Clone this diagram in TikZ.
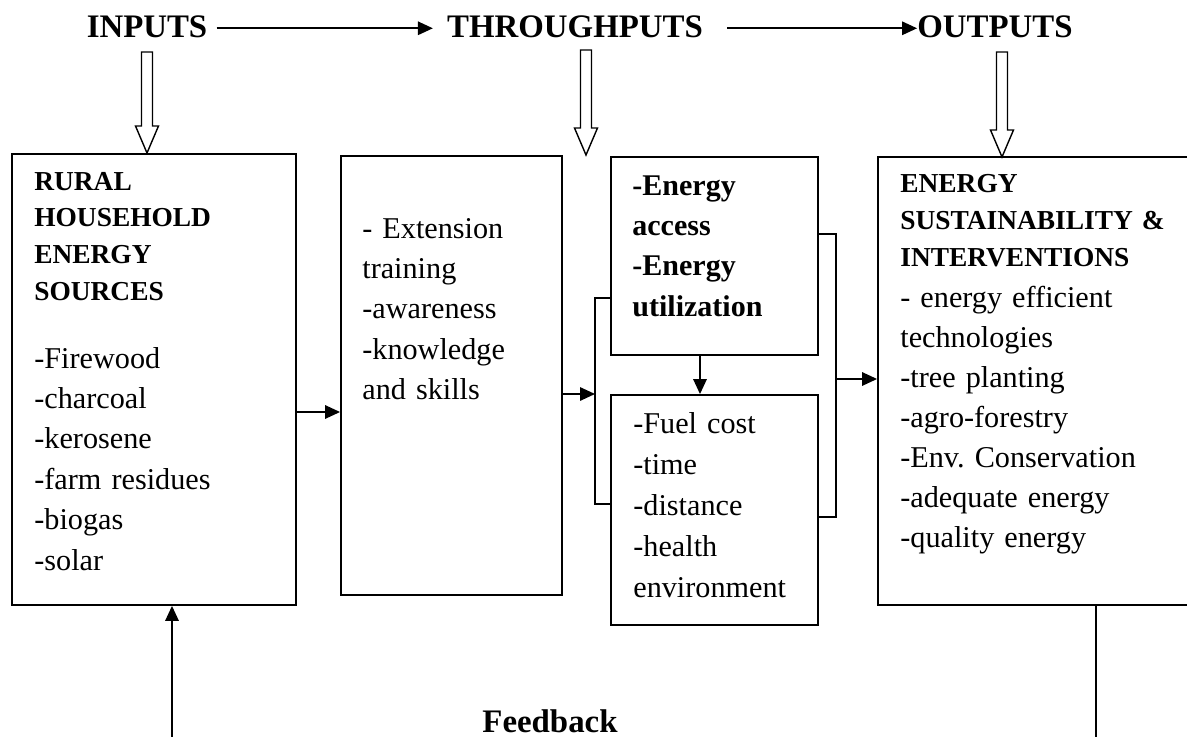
\documentclass[tikz,border=0pt]{standalone}
\usepackage{fontspec}
\setmainfont{Liberation Serif}
\usetikzlibrary{arrows.meta,calc}
\frenchspacing

\tikzset{
    box/.style={draw, line width=1.1pt, inner sep=0pt},
    head/.style={inner sep=0pt, font=\fontsize{18.7pt}{22pt}\selectfont\bfseries},
    txt/.style={anchor=base west, inner sep=0pt, text width=7cm, align=left,
        font=\fontsize{17.2pt}{23pt}\selectfont},
    bhead/.style={txt, font=\fontsize{15.6pt}{21pt}\selectfont\bfseries},
    arr/.style={-{Triangle[length=0.3cm,width=0.27cm]}, line width=0.9pt},
    link/.style={line width=0.9pt},
}

\begin{document}
\begin{tikzpicture}[x=0.02cm, y=-0.02cm]
            \clip (0,0) rectangle (1187,737);

            \node[head, anchor=base] (inputs) at (147,37) {INPUTS};
            \node[head, anchor=base] (through) at (575,37) {THROUGHPUTS};
            \node[head, anchor=base] (outputs) at (995,37) {OUTPUTS};
            \node[head, anchor=base] (fb) at (550,732) {Feedback};

            \draw[arr, shorten <=0.18cm, shorten >=0.28cm] ([yshift=-0.04cm]inputs.east) -- ([yshift=-0.04cm]through.west |- inputs.east);
            \draw[arr, shorten <=0.48cm] ([yshift=-0.04cm]through.east) -- ([yshift=-0.04cm]outputs.west |- through.east);

            \coordinate (intail) at (147,52);
            \coordinate (inhead) at (147,153);
            \coordinate (thtail) at (586,50);
            \coordinate (thhead) at (586,155);
            \coordinate (outtail) at (1002,52);
            \coordinate (outhead) at (1002,157);

            \foreach \tl/\hd in {intail/inhead, thtail/thhead, outtail/outhead}
                \draw[line width=0.8pt] let \p1=(\tl), \p2=(\hd) in
                    (\x1-0.11cm,\y1) -- (\x1+0.11cm,\y1) -- (\x1+0.11cm,\y2+0.54cm)
                    -- (\x1+0.23cm,\y2+0.54cm) -- (\x2,\y2) -- (\x1-0.23cm,\y2+0.54cm)
                    -- (\x1-0.11cm,\y2+0.54cm) -- cycle;

            \node[box, minimum width=5.68cm, minimum height=9.02cm] (src) at (154,379.5) {};
            \node[box, minimum width=4.42cm, minimum height=8.78cm] (ext) at (451.5,375.5) {};
            \node[box, minimum width=4.14cm, minimum height=3.96cm] (access) at (714.5,256) {};
            \node[box, minimum width=4.14cm, minimum height=4.6cm] (cost) at (714.5,510) {};
            \node[box, minimum width=6.44cm, minimum height=8.96cm] (sust) at (1039,381) {};

            \node[bhead] (srchead) at (34,190) {RURAL\\HOUSEHOLD\\ENERGY\\SOURCES};
            \node[txt] (srclist) at (34,368) {-Firewood\\-charcoal\\-kerosene\\-farm residues\\-biogas\\-solar};
            \node[txt] (exttxt) at (362,238) {- Extension\\training\\-awareness\\-knowledge\\and skills};
            \node[txt, font=\fontsize{17.1pt}{23pt}\selectfont\bfseries] (accesstxt) at (632,195)
                {-Energy\\access\\-Energy\\utilization};
            \node[txt, font=\fontsize{17.2pt}{23.4pt}\selectfont] (costtxt) at (633,433)
                {-Fuel cost\\-time\\-distance\\-health\\environment};
            \node[bhead, font=\fontsize{15.6pt}{21.3pt}\selectfont\bfseries] (susthead) at (900,192)
                {ENERGY\\SUSTAINABILITY \&\\INTERVENTIONS};
            \node[txt, font=\fontsize{17.2pt}{22.8pt}\selectfont] (sustlist) at (900,307)
                {- energy efficient\\technologies\\-tree planting\\-agro-forestry\\-Env. Conservation\\-adequate energy\\-quality energy};

            \draw[arr] (src.east |- 0,412) -- (ext.west |- 0,412);

            \coordinate (bl) at (595,394);
            \draw[link] (access.west |- 0,298) -| (bl) |- (cost.west |- 0,504);
            \draw[arr] (ext.east |- bl) -- (bl);

            \coordinate (br) at (836,379);
            \draw[link] (access.east |- 0,234) -| (br) |- (cost.east |- 0,517);
            \draw[arr] (br) -- (sust.west |- br);

            \draw[arr] (access.south -| 700,0) -- (cost.north -| 700,0);

            \coordinate (fbl) at (172,740);
            \coordinate (fbr) at (1096,740);
            \draw[arr] (fbl) -- (src.south -| fbl);
            \draw[link] (sust.south -| fbr) -- (fbr);
\end{tikzpicture}
\end{document}
